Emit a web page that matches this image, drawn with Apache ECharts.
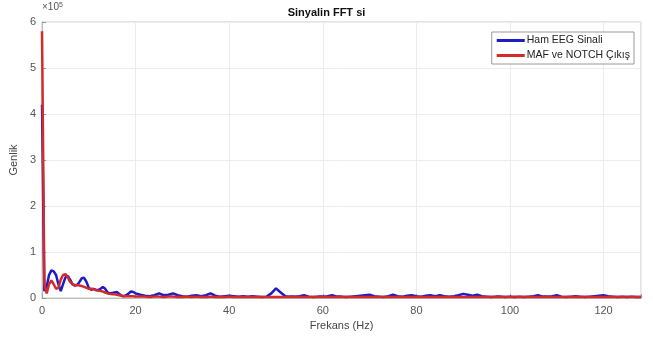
<!DOCTYPE html>
<html><head><meta charset="utf-8">
<script src="https://cdn.jsdelivr.net/npm/echarts@6/dist/echarts.min.js"></script>
<style>html,body{margin:0;padding:0;background:#fff}#c{width:653px;height:343px}</style>
</head><body><div id="c"></div>
<script>
const freq = [0,0.5,1,1.5,2,2.5,3,3.5,4,4.5,5,5.5,6,6.5,7,7.5,8,8.5,9,9.5,10,10.5,11,11.5,12,12.5,13,13.5,14,14.5,15,15.5,16,16.5,17,17.5,18,18.5,19,19.5,20,
21,22,23,24,25,26,27,28,29,30,31,32,33,34,35,36,37,38,39,40,41,42,43,44,45,46,47,48,49,50,51,52,53,54,55,56,57,58,59,60,61,62,63,64,65,66,67,68,69,70,71,72,73,74,75,76,77,78,79,80,81,82,83,84,85,86,87,88,89,90,91,92,93,94,95,96,97,98,99,100,101,102,103,104,105,106,107,108,109,110,111,112,113,114,115,116,117,118,119,120,121,122,123,124,125,126,127,128];
const hamEEG = [4.2,0.15,0.25,0.5,0.6,0.58,0.5,0.3,0.15,0.3,0.45,0.48,0.4,0.3,0.27,0.28,0.35,0.43,0.44,0.35,0.22,0.18,0.2,0.18,0.17,0.2,0.24,0.2,0.12,0.1,0.11,0.12,0.13,0.09,0.05,0.04,0.06,0.1,0.14,0.13,0.1,
0.07,0.05,0.04,0.06,0.1,0.06,0.07,0.1,0.06,0.04,0.03,0.05,0.06,0.04,0.06,0.1,0.05,0.03,0.04,0.05,0.04,0.03,0.04,0.03,0.04,0.03,0.02,0.03,0.1,0.21,0.12,0.04,0.03,0.03,0.04,0.06,0.03,0.02,0.03,0.03,0.04,0.06,0.03,0.03,0.02,0.03,0.04,0.05,0.06,0.07,0.04,0.03,0.02,0.04,0.07,0.04,0.03,0.05,0.06,0.04,0.03,0.05,0.06,0.04,0.06,0.04,0.03,0.04,0.06,0.09,0.07,0.05,0.07,0.04,0.03,0.02,0.03,0.03,0.02,0.03,0.02,0.03,0.02,0.03,0.04,0.06,0.03,0.03,0.04,0.06,0.03,0.02,0.03,0.04,0.03,0.02,0.03,0.04,0.05,0.06,0.04,0.03,0.02,0.03,0.02,0.03,0.02,0.02];
const mafNotch = [5.8,0.3,0.1,0.3,0.38,0.3,0.2,0.22,0.4,0.5,0.52,0.45,0.35,0.3,0.28,0.28,0.27,0.26,0.24,0.22,0.2,0.2,0.19,0.17,0.16,0.15,0.14,0.12,0.1,0.09,0.08,0.08,0.07,0.06,0.05,0.04,0.04,0.04,0.04,0.04,0.03,
0.03,0.03,0.02,0.03,0.03,0.02,0.03,0.03,0.02,0.02,0.03,0.02,0.03,0.02,0.02,0.03,0.02,0.02,0.02,0.03,0.02,0.02,0.02,0.02,0.02,0.02,0.02,0.02,0.02,0.02,0.02,0.02,0.02,0.02,0.02,0.02,0.02,0.02,0.02,0.02,0.02,0.02,0.02,0.02,0.02,0.02,0.02,0.02,0.02,0.02,0.02,0.02,0.02,0.02,0.02,0.02,0.02,0.02,0.02,0.02,0.02,0.02,0.02,0.02,0.02,0.02,0.02,0.02,0.02,0.02,0.02,0.02,0.02,0.02,0.02,0.02,0.02,0.02,0.02,0.02,0.02,0.02,0.02,0.02,0.02,0.02,0.02,0.02,0.02,0.02,0.02,0.02,0.02,0.02,0.02,0.02,0.02,0.02,0.02,0.02,0.02,0.02,0.02,0.02,0.02,0.02,0.02,0.02,0.02];
const seriesNames = ['Ham EEG Sinali', 'MAF ve NOTCH Çıkış'];
const xTicks = [0,20,40,60,80,100,120];
const yTicks = [0,1,2,3,4,5,6];

const chart = echarts.init(document.getElementById('c'), null, {renderer:'canvas'});
const pair = (arr) => freq.map((f,i) => [f, arr[i]]);
const fontF = 'Liberation Sans, Arial, sans-serif';
chart.setOption({
  animation:false,
  backgroundColor:'#fff',
  title:{text:'Sinyalin FFT si', left:'center', top:2, textStyle:{fontSize:11, fontWeight:'bold', color:'#111', fontFamily:fontF}},
  grid:{left:41, right:12, top:22, bottom:45, show:true, borderColor:'#c8c8c8', borderWidth:1},
  legend:{orient:'vertical', right:19, top:32, itemWidth:28, itemHeight:3, itemGap:4,
    backgroundColor:'#fff', borderColor:'#9a9a9a', borderWidth:1, padding:[3,4,3,5],
    icon:'rect', textStyle:{fontSize:10.5, color:'#222', fontFamily:fontF, padding:[0,0,0,-3]},
    data:seriesNames},
  xAxis:{type:'value', min:0, max:128, interval:20,
    name:'Frekans (Hz)', nameLocation:'middle', nameGap:22, nameTextStyle:{fontSize:11, color:'#444', fontFamily:fontF},
    axisLine:{show:true, lineStyle:{color:'#bbb'}}, axisTick:{show:true, inside:true, length:4, lineStyle:{color:'#999'}},
    axisLabel:{color:'#555', fontSize:11, fontFamily:fontF, margin:7, formatter:(v)=> xTicks.includes(v)? String(v):''},
    splitLine:{show:true, lineStyle:{color:'#ececec'}}},
  yAxis:{type:'value', min:0, max:6, interval:1,
    name:'Genlik', nameLocation:'middle', nameGap:20, nameTextStyle:{fontSize:11, color:'#444', fontFamily:fontF},
    axisLine:{show:true, lineStyle:{color:'#bbb'}}, axisTick:{show:true, inside:true, length:4, lineStyle:{color:'#999'}},
    axisLabel:{color:'#555', fontSize:11, fontFamily:fontF, margin:6, formatter:(v)=> yTicks.includes(v)? String(v):''},
    splitLine:{show:true, lineStyle:{color:'#ececec'}}},
  graphic:[{type:'text', left:42, top:2, style:{text:'{a|×10}{b|5}', rich:{a:{fontSize:10, fill:'#555', fontFamily:fontF}, b:{fontSize:7, fill:'#555', verticalAlign:'top', fontFamily:fontF}}}}],
  series:[
    {name:seriesNames[0], type:'line', data:pair(hamEEG), showSymbol:false, lineStyle:{width:2.5, color:'#1c1cc8'}, itemStyle:{color:'#1c1cc8'}, z:2},
    {name:seriesNames[1], type:'line', data:pair(mafNotch), showSymbol:false, lineStyle:{width:2.5, color:'#d42a2a'}, itemStyle:{color:'#d42a2a'}, z:3}
  ]
});
</script></body></html>
